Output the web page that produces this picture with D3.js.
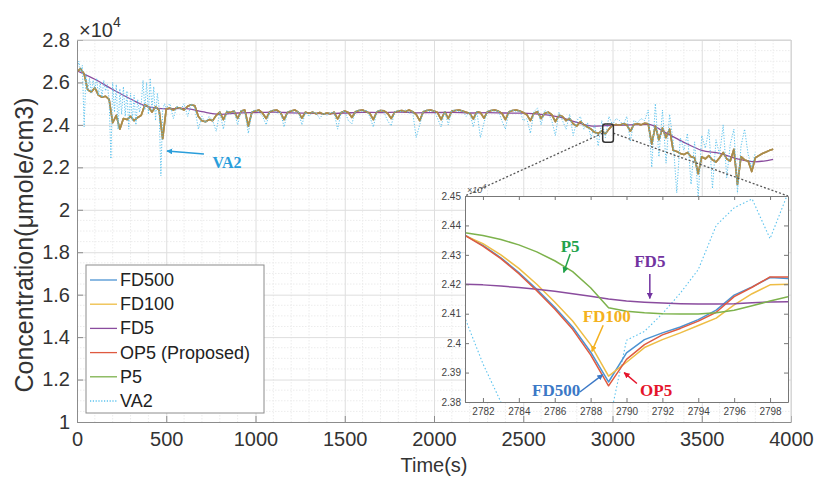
<!DOCTYPE html>
<html><head><meta charset="utf-8">
<script src="https://cdn.jsdelivr.net/npm/d3@7"></script>
<style>
body{margin:0;background:#fff;}
svg{display:block;font-family:"Liberation Sans",Arial,Helvetica,sans-serif;}
</style>
</head><body>
<svg id="chart" width="818" height="485"></svg>
<script>
// ---------------- DATA (concentration in units of 1e4 µmole/cm3) ----------------
const seriesNames = ["FD500","FD100","FD5","OP5 (Proposed)","P5","VA2"];

// main view, sampled every 20 s from 0 s
const mainTimeStep = 20;
// FD500, FD100, OP5 and P5 coincide at this scale
const trackMain = [
 2.650,2.665,2.640,2.565,2.555,2.575,2.540,2.530,2.535,2.520,
 2.410,2.445,2.380,2.430,2.425,2.440,2.420,2.435,2.445,2.495,
 2.485,2.460,2.485,2.470,2.335,2.475,2.480,2.470,2.482,2.478,
 2.470,2.488,2.495,2.490,2.440,2.420,2.415,2.425,2.420,2.445,
 2.460,2.425,2.462,2.458,2.465,2.430,2.465,2.470,2.395,2.460,
 2.465,2.470,2.455,2.430,2.462,2.468,2.470,2.458,2.425,2.460,
 2.465,2.470,2.460,2.432,2.460,2.455,2.460,2.452,2.458,2.450,
 2.456,2.452,2.460,2.428,2.458,2.465,2.458,2.435,2.462,2.468,
 2.470,2.462,2.455,2.425,2.462,2.468,2.466,2.455,2.430,2.460,
 2.465,2.468,2.462,2.470,2.462,2.450,2.420,2.462,2.468,2.470,
 2.465,2.458,2.425,2.462,2.430,2.465,2.468,2.470,2.465,2.460,
 2.455,2.428,2.462,2.458,2.432,2.462,2.468,2.470,2.465,2.455,
 2.425,2.462,2.468,2.470,2.465,2.458,2.448,2.420,2.455,2.462,
 2.430,2.455,2.460,2.448,2.415,2.445,2.440,2.420,2.430,2.405,
 2.395,2.415,2.400,2.390,2.380,2.365,2.360,2.372,2.358,2.380,
 2.398,2.402,2.398,2.405,2.400,2.370,2.402,2.405,2.400,2.408,
 2.405,2.310,2.395,2.330,2.385,2.340,2.380,2.280,2.275,2.265,
 2.260,2.270,2.250,2.245,2.170,2.250,2.240,2.255,2.235,2.225,
 2.245,2.270,2.240,2.230,2.285,2.120,2.250,2.235,2.230,2.180,
 2.245,2.255,2.265,2.272,2.280,2.285
];
const fd500Main = trackMain;
const fd100Main = trackMain;
const op5Main = trackMain;
const p5Main = trackMain;

// FD5, every 100 s from 0 s
const fd5TimeStep = 100;
const fd5Main = [
 2.655,2.615,2.567,2.522,2.485,2.475,2.478,2.462,2.450,2.456,
 2.458,2.460,2.457,2.455,2.453,2.456,2.459,2.458,2.460,2.457,
 2.458,2.459,2.456,2.458,2.456,2.455,2.450,2.438,2.412,2.394,
 2.398,2.400,2.402,2.362,2.318,2.280,2.266,2.240,2.226,2.238
];

// VA2: every 10 s over 0-490 s, then every 20 s over 500-3800 s
const va2Time = d3.range(0, 500, 10).concat(d3.range(500, 3801, 20));
const va2Main = [
 2.660,2.700,2.650,2.680,2.390,2.640,2.560,2.620,2.550,2.610,
 2.570,2.620,2.540,2.600,2.530,2.610,2.560,2.590,2.520,2.240,
 2.600,2.460,2.590,2.380,2.570,2.450,2.580,2.440,2.560,2.380,
 2.550,2.420,2.540,2.400,2.520,2.460,2.500,2.610,2.470,2.600,
 2.450,2.620,2.470,2.580,2.420,2.550,2.480,2.160,2.470,2.500,
 2.480,2.500,2.430,2.490,2.470,
 2.500,2.440,2.500,2.480,2.380,2.440,2.410,2.440,2.420,2.370,
 2.460,2.380,2.470,2.450,2.470,2.400,2.470,2.460,2.360,2.465,
 2.470,2.460,2.440,2.400,2.465,2.470,2.455,2.460,2.390,2.462,
 2.470,2.455,2.465,2.400,2.460,2.440,2.462,2.455,2.430,2.455,
 2.445,2.458,2.460,2.380,2.460,2.465,2.420,2.405,2.465,2.470,
 2.462,2.470,2.440,2.390,2.465,2.470,2.460,2.420,2.395,2.462,
 2.468,2.460,2.470,2.455,2.465,2.340,2.400,2.465,2.470,2.462,
 2.468,2.430,2.390,2.465,2.400,2.468,2.470,2.462,2.468,2.440,
 2.460,2.390,2.465,2.340,2.410,2.465,2.470,2.462,2.468,2.420,
 2.380,2.465,2.470,2.460,2.468,2.420,2.430,2.360,2.462,2.480,
 2.400,2.470,2.455,2.420,2.350,2.460,2.420,2.380,2.450,2.350,
 2.420,2.440,2.380,2.410,2.340,2.400,2.300,2.420,2.340,2.440,
 2.400,2.430,2.420,2.400,2.440,2.320,2.420,2.410,2.430,2.420,
 2.470,2.200,2.500,2.250,2.470,2.220,2.450,2.320,2.080,2.340,
 2.280,2.360,2.120,2.320,2.060,2.350,2.290,2.380,2.100,2.330,
 2.260,2.400,2.150,2.310,2.380,2.080,2.300,2.380,2.260,2.200,
 2.270
];

// zoomed view, 1 s samples from 2781 s
const zoomStart = 2781;
const fd500Zoom = [2.4367,2.4332,2.4290,2.4240,2.4183,2.4122,2.4055,2.3970,2.3868,2.3967,2.4012,2.4035,2.4055,2.4080,2.4112,2.4163,2.4191,2.4223,2.4220];
const fd100Zoom = [2.4365,2.4338,2.4300,2.4254,2.4200,2.4140,2.4075,2.3995,2.3888,2.3935,2.3985,2.4012,2.4035,2.4060,2.4085,2.4130,2.4168,2.4198,2.4200];
const fd5Zoom   = [2.4200,2.4198,2.4194,2.4189,2.4183,2.4176,2.4168,2.4159,2.4150,2.4143,2.4139,2.4136,2.4134,2.4133,2.4133,2.4134,2.4137,2.4140,2.4141];
const op5Zoom   = [2.4366,2.4330,2.4287,2.4236,2.4178,2.4116,2.4047,2.3960,2.3855,2.3945,2.3995,2.4028,2.4050,2.4075,2.4105,2.4158,2.4190,2.4225,2.4225];
const p5Zoom    = [2.4375,2.4366,2.4352,2.4334,2.4310,2.4280,2.4243,2.4188,2.4120,2.4108,2.4103,2.4100,2.4099,2.4099,2.4103,2.4112,2.4127,2.4143,2.4158];
// VA2 zoom, 1 s samples from 2780 s
const va2ZoomStart = 2780;
const va2Zoom   = [2.4230,2.4085,2.3930,2.3800,2.3700,2.3620,2.3600,2.3620,2.3650,2.3720,2.4010,2.4040,2.4100,2.4170,2.4250,2.4400,2.4460,2.4490,2.4355,2.4510];

// tick labels
const mainXTicks = [0,500,1000,1500,2000,2500,3000,3500,4000];
const mainYTicks = [1,1.2,1.4,1.6,1.8,2,2.2,2.4,2.6,2.8];
const zoomXTicks = [2782,2784,2786,2788,2790,2792,2794,2796,2798];
const zoomYTicks = [2.38,2.39,2.4,2.41,2.42,2.43,2.44,2.45];

// region of the main view that is magnified (data units)
const zoomBox = {t0:2945, t1:3005, c0:2.318, c1:2.404};

// text callouts (data units)
const mainCallouts = [{label:"VA2", tx:840, ty:2.225, fx:711, fy:2.263, ax:504, ay:2.277, key:"VA2"}];
const zoomCallouts = [
 {label:"P5",    tx:2786.86, ty:2.4328, fx:2786.86, fy:2.4303, ax:2786.5,  ay:2.4240, key:"P5"},
 {label:"FD5",   tx:2791.3,  ty:2.4277, fx:2791.3,  fy:2.4235, ax:2791.3,  ay:2.4152, key:"FD5"},
 {label:"FD100", tx:2788.9,  ty:2.4089, fx:2788.7,  fy:2.4061, ax:2788.07, ay:2.3972, key:"FD100"},
 {label:"FD500", tx:2786.08, ty:2.3838, fx:2787.4,  fy:2.3834, ax:2788.68, ay:2.3893, key:"FD500"},
 {label:"OP5",   tx:2791.65, ty:2.3840, fx:2790.58, fy:2.3863, ax:2789.87, ay:2.3900, key:"OP5"}
];

// ---------------- STYLE ----------------
const lineColor = {FD500:"#4c93d2", FD100:"#eebd45", FD5:"#8a4c9e", OP5:"#df5a40", P5:"#7db24c", VA2:"#5cc3ee"};
const labelColor = {FD500:"#3b78c6", FD100:"#f4b120", FD5:"#7233a0", OP5:"#e5142b", P5:"#22a24b", VA2:"#2a9edb"};
const mainOpacity = {FD500:0.8, FD100:0.8, OP5:0.9, P5:0.55};
const keys = ["FD500","FD100","FD5","OP5","P5","VA2"];

const svg = d3.select("#chart");
svg.append("rect").attr("width",818).attr("height",485).attr("fill","#fff");

const x = d3.scaleLinear().domain([0,4000]).range([77,791]);
const y = d3.scaleLinear().domain([1,2.8]).range([422,40]);
const [L,R] = x.range(); const [B,T] = y.range();

// defs
const defs = svg.append("defs");
defs.append("clipPath").attr("id","clipMain").append("rect").attr("x",L).attr("y",T).attr("width",R-L).attr("height",B-T);
keys.forEach(k=>{
  defs.append("marker").attr("id","arr"+k).attr("viewBox","0 0 10 10").attr("refX",9).attr("refY",5)
    .attr("markerWidth",6).attr("markerHeight",6).attr("orient","auto").attr("markerUnits","userSpaceOnUse")
    .append("path").attr("d","M0,0L10,5L0,10z").attr("fill",labelColor[k]);
});

// grid (minor + major)
const minorX = d3.range(0,4001,100).filter(v=>v%500!==0);
const minorY = d3.range(100,281,5).map(v=>v/100).filter(v=>Math.round(v*100)%20!==0);
const grid = svg.append("g");
grid.selectAll(".mx").data(minorX).join("line").attr("x1",d=>x(d)).attr("x2",d=>x(d)).attr("y1",T).attr("y2",B)
  .attr("stroke","#ececec").attr("stroke-dasharray","1.5,1.5");
grid.selectAll(".my").data(minorY).join("line").attr("y1",d=>y(d)).attr("y2",d=>y(d)).attr("x1",L).attr("x2",R)
  .attr("stroke","#ececec").attr("stroke-dasharray","1.5,1.5");
grid.append("g").attr("transform",`translate(0,${B})`)
  .call(d3.axisBottom(x).tickValues(mainXTicks).tickSize(-(B-T)).tickFormat(""))
  .call(g=>{g.select(".domain").remove(); g.selectAll("line").attr("stroke","#dedede");});
grid.append("g").attr("transform",`translate(${L},0)`)
  .call(d3.axisLeft(y).tickValues(mainYTicks).tickSize(-(R-L)).tickFormat(""))
  .call(g=>{g.select(".domain").remove(); g.selectAll("line").attr("stroke","#dedede");});

// main lines
const plot = svg.append("g").attr("clip-path","url(#clipMain)");
const mainSeries = [
  {k:"FD500", v:fd500Main, t:trackMain.map((d,i)=>i*mainTimeStep)},
  {k:"FD100", v:fd100Main, t:trackMain.map((d,i)=>i*mainTimeStep)},
  {k:"FD5",   v:fd5Main,   t:fd5Main.map((d,i)=>i*fd5TimeStep)},
  {k:"OP5",   v:op5Main,   t:trackMain.map((d,i)=>i*mainTimeStep)},
  {k:"P5",    v:p5Main,    t:trackMain.map((d,i)=>i*mainTimeStep)},
  {k:"VA2",   v:va2Main,   t:va2Time}
];
mainSeries.forEach(s=>{
  const gen = d3.line().x((d,i)=>x(s.t[i])).y(d=>y(d));
  if(s.k==="FD5") gen.curve(d3.curveMonotoneX);
  const p = plot.append("path").attr("d", gen(s.v))
    .attr("fill","none").attr("stroke",lineColor[s.k]).attr("stroke-linejoin","round");
  if(s.k==="VA2") p.attr("stroke-width",1).attr("stroke-dasharray","1.2,1.6");
  else if(s.k==="FD5") p.attr("stroke-width",1.3);
  else p.attr("stroke-width",1.6).attr("stroke-opacity",mainOpacity[s.k]);
});

// axes
const axX = svg.append("g").attr("transform",`translate(0,${B})`)
  .call(d3.axisBottom(x).tickValues(mainXTicks).tickSizeInner(-6).tickSizeOuter(0).tickPadding(10).tickFormat(d3.format("d")));
const axY = svg.append("g").attr("transform",`translate(${L},0)`)
  .call(d3.axisLeft(y).tickValues(mainYTicks).tickSizeInner(-6).tickSizeOuter(0).tickPadding(7).tickFormat(d=>String(+d.toFixed(1))));
[axX,axY].forEach(a=>{
  a.select(".domain").attr("stroke","#8c8c8c");
  a.selectAll(".tick line").attr("stroke","#8c8c8c");
  a.selectAll("text").attr("fill","#333").attr("font-size","20px").attr("font-family","'Liberation Sans',Arial,sans-serif");
});
// top / right frame
svg.append("line").attr("x1",L).attr("x2",R).attr("y1",T).attr("y2",T).attr("stroke","#d0d0d0");
svg.append("line").attr("x1",R).attr("x2",R).attr("y1",T).attr("y2",B).attr("stroke","#d0d0d0");

// exponent label
const ex = svg.append("text").attr("x",L+2).attr("y",T-3).attr("fill","#333").attr("font-size","20px");
ex.append("tspan").text("\u00d710");
ex.append("tspan").attr("font-size","14px").attr("dy","-10").text("4");

// axis titles
svg.append("text").attr("x",(L+R)/2).attr("y",472).attr("text-anchor","middle").attr("fill","#333")
  .attr("font-size","20px").text("Time(s)");
svg.append("text").attr("transform",`translate(33,${(T+B)/2+14}) rotate(-90)`).attr("text-anchor","middle")
  .attr("fill","#333").attr("font-size","25px").text("Concentration(\u03bcmole/cm3)");

// zoom box + connectors
const xi = d3.scaleLinear().domain([2781,2799]).range([465,788]);
const yi = d3.scaleLinear().domain([2.38,2.45]).range([402,196]);
const [iL,iR] = xi.range(); const [iB,iT] = yi.range();
const midC = (zoomBox.c0+zoomBox.c1)/2;
svg.append("line").attr("x1",x(zoomBox.t0)).attr("y1",y(midC)).attr("x2",iL).attr("y2",iT)
  .attr("stroke","#555").attr("stroke-width",1.3).attr("stroke-dasharray","2,2");
svg.append("line").attr("x1",x(zoomBox.t1)).attr("y1",y(midC)).attr("x2",iR).attr("y2",iT)
  .attr("stroke","#555").attr("stroke-width",1.3).attr("stroke-dasharray","2,2");
svg.append("rect").attr("x",x(zoomBox.t0)).attr("y",y(zoomBox.c1)).attr("width",x(zoomBox.t1)-x(zoomBox.t0))
  .attr("height",y(zoomBox.c0)-y(zoomBox.c1)).attr("rx",2.5).attr("fill","none").attr("stroke","#333").attr("stroke-width",1.5);

// main callouts
mainCallouts.forEach(c=>{
  svg.append("line").attr("x1",x(c.fx)).attr("y1",y(c.fy)).attr("x2",x(c.ax)).attr("y2",y(c.ay))
    .attr("stroke",labelColor[c.key]).attr("stroke-width",1.5).attr("marker-end","url(#arr"+c.key+")");
  svg.append("text").attr("x",x(c.tx)).attr("y",y(c.ty)).attr("text-anchor","middle").attr("dominant-baseline","central")
    .attr("font-family","'Liberation Serif','Times New Roman',serif").attr("font-weight","bold").attr("font-size","16px")
    .attr("fill",labelColor[c.key]).text(c.label);
});

// ---------------- INSET ----------------
const inset = svg.append("g");
inset.append("rect").attr("x",iL).attr("y",iT).attr("width",iR-iL).attr("height",iB-iT).attr("fill","#fff");
defs.append("clipPath").attr("id","clipInset").append("rect").attr("x",iL).attr("y",iT).attr("width",iR-iL).attr("height",iB-iT);
const ip = inset.append("g").attr("clip-path","url(#clipInset)");
const zoomSeries = [
  {k:"VA2", v:va2Zoom, t0:va2ZoomStart},
  {k:"FD500", v:fd500Zoom, t0:zoomStart},
  {k:"FD100", v:fd100Zoom, t0:zoomStart},
  {k:"FD5", v:fd5Zoom, t0:zoomStart},
  {k:"OP5", v:op5Zoom, t0:zoomStart},
  {k:"P5", v:p5Zoom, t0:zoomStart}
];
zoomSeries.forEach(s=>{
  const p = ip.append("path").attr("d", d3.line().x((d,i)=>xi(s.t0+i)).y(d=>yi(d))(s.v))
    .attr("fill","none").attr("stroke",lineColor[s.k]).attr("stroke-linejoin","round");
  if(s.k==="VA2") p.attr("stroke-width",1.1).attr("stroke-dasharray","1.5,2.2");
  else p.attr("stroke-width",1.5);
});
const iaxB = inset.append("g").attr("transform",`translate(0,${iB})`)
  .call(d3.axisBottom(xi).tickValues(zoomXTicks).tickSizeInner(-4).tickSizeOuter(0).tickPadding(6).tickFormat(d3.format("d")));
const iaxT = inset.append("g").attr("transform",`translate(0,${iT})`)
  .call(d3.axisTop(xi).tickValues(zoomXTicks).tickSizeInner(-4).tickSizeOuter(0).tickFormat(""));
const iaxL = inset.append("g").attr("transform",`translate(${iL},0)`)
  .call(d3.axisLeft(yi).tickValues(zoomYTicks).tickSizeInner(-4).tickSizeOuter(0).tickPadding(4).tickFormat(d=>String(+d.toFixed(2))));
const iaxR = inset.append("g").attr("transform",`translate(${iR},0)`)
  .call(d3.axisRight(yi).tickValues(zoomYTicks).tickSizeInner(-4).tickSizeOuter(0).tickFormat(""));
[iaxB,iaxT,iaxL,iaxR].forEach(a=>{
  a.select(".domain").attr("stroke","#777");
  a.selectAll(".tick line").attr("stroke","#777");
  a.selectAll("text").attr("fill","#444").attr("font-size","10px");
});
const iex = inset.append("text").attr("x",iL+2).attr("y",iT-3).attr("fill","#555").attr("font-size","9px").attr("font-style","italic");
iex.append("tspan").text("\u00d710");
iex.append("tspan").attr("font-size","7px").attr("dy","-4").text("4");

zoomCallouts.forEach(c=>{
  inset.append("line").attr("x1",xi(c.fx)).attr("y1",yi(c.fy)).attr("x2",xi(c.ax)).attr("y2",yi(c.ay))
    .attr("stroke",labelColor[c.key]).attr("stroke-width",1.5).attr("marker-end","url(#arr"+c.key+")");
  inset.append("text").attr("x",xi(c.tx)).attr("y",yi(c.ty)).attr("text-anchor","middle").attr("dominant-baseline","central")
    .attr("font-family","'Liberation Serif','Times New Roman',serif").attr("font-weight","bold").attr("font-size","17px")
    .attr("fill",labelColor[c.key]).text(c.label);
});

// ---------------- LEGEND ----------------
const lg = svg.append("g").attr("transform","translate(86,265)");
lg.append("rect").attr("width",178).attr("height",148).attr("fill","#fff").attr("stroke","#8c8c8c");
seriesNames.forEach((name,i)=>{
  const k = keys[i];
  const yy = 15 + i*24.2;
  const ln = lg.append("line").attr("x1",4).attr("x2",31).attr("y1",yy).attr("y2",yy).attr("stroke",lineColor[k]).attr("stroke-width",1.3);
  if(k==="VA2") ln.attr("stroke-dasharray","1.2,1.6");
  lg.append("text").attr("x",34).attr("y",yy).attr("dominant-baseline","central").attr("fill","#222")
    .attr("font-size","18px").text(name);
});
</script>
</body></html>
